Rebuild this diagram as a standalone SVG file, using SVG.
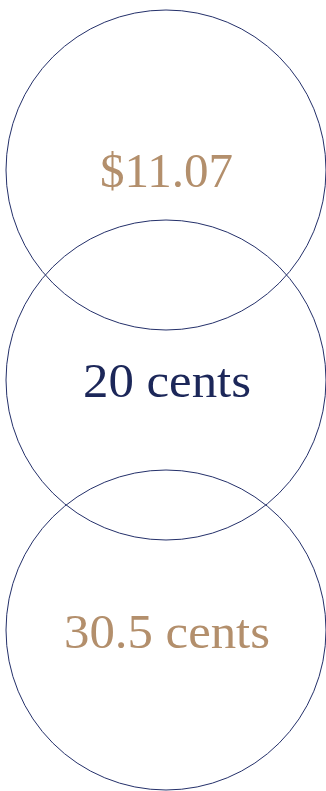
<svg xmlns="http://www.w3.org/2000/svg" width="326" height="791" viewBox="0 0 326 791">
<style>
.c{fill:none;stroke:#24306a;stroke-width:1}
.t{font-family:"Liberation Serif",serif;font-size:48px;text-anchor:middle}
.tan{fill:#b38f6c}
.navy{fill:#1c2759}
</style>
<rect width="326" height="791" fill="#fff"/>
<g id="node1"><circle class="c" cx="166" cy="170" r="160"/><text class="t tan" x="166.5" y="186.5" textLength="133" lengthAdjust="spacingAndGlyphs">$11.07</text></g>
<g id="node2"><circle class="c" cx="166" cy="380" r="160"/><text class="t navy" x="167" y="397" textLength="168" lengthAdjust="spacingAndGlyphs">20 cents</text></g>
<g id="node3"><circle class="c" cx="166" cy="630" r="160"/><text class="t tan" x="167" y="647.5" textLength="206" lengthAdjust="spacingAndGlyphs">30.5 cents</text></g>
<g id="connectors"></g>
</svg>
